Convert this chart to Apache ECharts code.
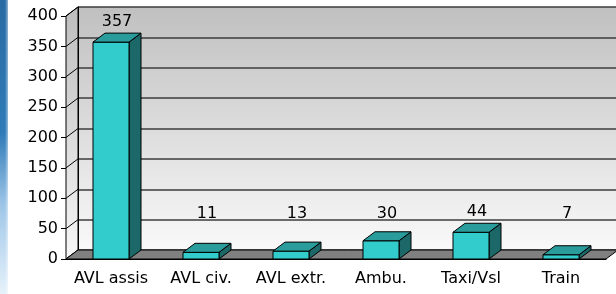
<!DOCTYPE html>
<html lang="en">
<head>
	<meta charset="UTF-8">
	<title>chart</title>
	<script src="https://cdn.jsdelivr.net/npm/echarts@6/dist/echarts.min.js"></script>
	<style>
		html, body { margin: 0; padding: 0; background: #fff; }
	</style>
</head>
<body>
	<div id="main" style="width: 616px;height: 294px"></div>
	<script>
		var categories = ['AVL assis', 'AVL civ.', 'AVL extr.', 'Ambu.', 'Taxi/Vsl', 'Train'];
		var values = [357, 11, 13, 30, 44, 7];
		var yTicks = [0, 50, 100, 150, 200, 250, 300, 350, 400];

		var DX = 12, DY = -9;
		var font = 'DejaVu Sans';

		var myChart = echarts.init(document.getElementById('main'));

		// walls, floor and the slanted tick lines of the side wall
		function renderFrame(params, api) {
			var cs = params.coordSys;
			var left = cs.x, right = cs.x + cs.width, bottom = cs.y + cs.height, top = cs.y;
			var kids = [];
			kids.push({
				type: 'polygon',
				shape: { points: [[left, top], [left + DX, top + DY], [left + DX, bottom + DY], [left, bottom]] },
				style: {
					fill: new echarts.graphic.LinearGradient(0, 0, 0, 1, [
						{ offset: 0, color: '#bdbdbd' }, { offset: 1, color: '#f7f7f7' }
					]),
					stroke: '#000', lineWidth: 1
				}
			});
			yTicks.forEach(function (t) {
				var p = api.coord([0, t]);
				kids.push({
					type: 'line',
					shape: { x1: left, y1: p[1], x2: left + DX, y2: p[1] + DY },
					style: { stroke: '#000', lineWidth: 1 }
				});
			});
			kids.push({
				type: 'polygon',
				shape: { points: [[left, bottom], [left + DX, bottom + DY], [right + DX, bottom + DY], [right, bottom]] },
				style: { fill: '#808080', stroke: '#000', lineWidth: 1 }
			});
			return { type: 'group', children: kids };
		}

		function renderBar(params, api) {
			var i = api.value(0), v = api.value(1);
			var base = api.coord([i, 0]);
			var top = api.coord([i, v]);
			var w = api.size([1, 0])[0] * 0.4;
			var x0 = base[0] - w / 2, x1 = base[0] + w / 2, yb = base[1], yt = top[1];
			var ly = api.coord([i, Math.max(v, 42)])[1] + DY - 3;
			return {
				type: 'group',
				children: [
					{
						type: 'polygon',
						shape: { points: [[x1, yt], [x1 + DX, yt + DY], [x1 + DX, yb + DY], [x1, yb]] },
						style: { fill: '#1c6868', stroke: '#000', lineWidth: 1 }
					},
					{
						type: 'rect',
						shape: { x: x0, y: yt, width: w, height: yb - yt },
						style: { fill: '#33cccc', stroke: '#000', lineWidth: 1 }
					},
					{
						type: 'polygon',
						shape: { points: [[x0, yt], [x1, yt], [x1 + DX, yt + DY], [x0 + DX, yt + DY]] },
						style: { fill: '#2a9c9c', stroke: '#000', lineWidth: 1 }
					},
					{
						type: 'text',
						style: {
							x: base[0] + 6, y: ly, text: String(v),
							align: 'center', verticalAlign: 'bottom',
							font: '16px "' + font + '"', fill: '#000'
						}
					}
				]
			};
		}

		var option = {
			animation: false,
			graphic: [
				{
					type: 'rect', left: 0, top: 0, z: 0,
					shape: { width: 8, height: 294 },
					style: {
						fill: new echarts.graphic.LinearGradient(0, 0, 0, 1, [
							{ offset: 0, color: '#2a6ba4' },
							{ offset: 0.45, color: '#2f7bb8' },
							{ offset: 0.7, color: '#9fc6e8' },
							{ offset: 1, color: '#e6f2fb' }
						])
					}
				},
				{
					type: 'rect', left: 5, top: 0, z: 1,
					shape: { width: 6, height: 294 },
					style: {
						fill: new echarts.graphic.LinearGradient(0, 0, 1, 0, [
							{ offset: 0, color: 'rgba(255,255,255,0)' },
							{ offset: 1, color: 'rgba(255,255,255,1)' }
						])
					}
				}
			],
			grid: [
				{ left: 66, right: 10, top: 16, bottom: 35 },
				{
					left: 78, right: -2, top: 7, bottom: 44, show: true, borderWidth: 0,
					backgroundColor: new echarts.graphic.LinearGradient(0, 0, 0, 1, [
						{ offset: 0, color: '#c0c0c0' }, { offset: 1, color: '#f9f9f9' }
					])
				}
			],
			xAxis: [
				{
					type: 'category', gridIndex: 0, data: categories,
					axisLine: { lineStyle: { color: '#000', width: 1 } },
					axisTick: { length: 4, lineStyle: { color: '#000' } },
					axisLabel: { color: '#000', fontFamily: font, fontSize: 16, margin: 12, interval: 0 }
				},
				{ type: 'category', gridIndex: 1, data: categories, show: false }
			],
			yAxis: [
				{
					type: 'value', gridIndex: 0, min: 0, max: 400, interval: 50,
					axisLine: { show: true, lineStyle: { color: '#000', width: 1 } },
					axisTick: { show: true, length: 5, lineStyle: { color: '#000' } },
					splitLine: { show: false },
					axisLabel: { color: '#000', fontFamily: font, fontSize: 16, margin: 8 }
				},
				{
					type: 'value', gridIndex: 1, min: 0, max: 400, interval: 50,
					axisLine: { show: true, lineStyle: { color: '#000', width: 1 } },
					axisTick: { show: false }, axisLabel: { show: false },
					splitLine: { show: true, lineStyle: { color: '#3c3c3c', width: 1.5 } }
				}
			],
			series: [
				{
					type: 'custom', xAxisIndex: 0, yAxisIndex: 0, z: 1,
					renderItem: renderFrame, data: [[0, 0]], silent: true, clip: false
				},
				{
					type: 'custom', xAxisIndex: 0, yAxisIndex: 0, z: 2,
					renderItem: renderBar, clip: false,
					data: values.map(function (v, i) { return [i, v]; })
				}
			]
		};
		myChart.setOption(option);
	</script>
</body>
</html>
